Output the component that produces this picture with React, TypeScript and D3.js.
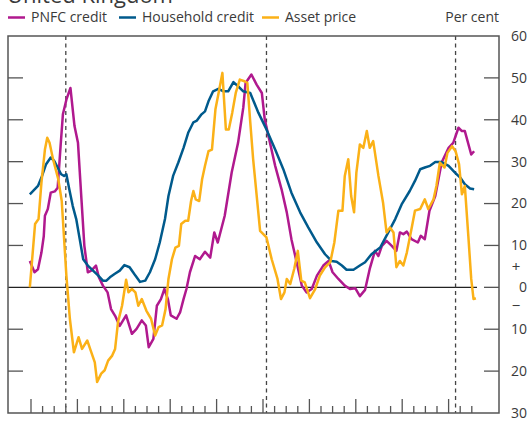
import * as d3 from 'd3'

// [year, per cent]
const pnfcCredit: [number, number][] = [
  [1969.9, 6.3], [1970.3, 3.6], [1970.6, 4.3], [1970.9, 8.3], [1971.1, 12.2], [1971.2, 17.1],
  [1971.45, 18.7], [1971.7, 22.6], [1972.05, 22.9], [1972.3, 23.8], [1972.55, 33.7], [1972.75, 41.3],
  [1973.05, 44.8], [1973.4, 47.6], [1973.75, 38.5], [1974.05, 34.5], [1974.35, 21.0], [1974.6, 9.9],
  [1974.9, 3.6], [1975.2, 4.0], [1975.6, 5.2], [1975.85, 2.4], [1976.2, 0.4], [1976.6, -1.2],
  [1976.9, -5.2], [1977.25, -6.8], [1977.65, -9.2], [1978.2, -6.7], [1978.7, -11.1], [1979.1, -9.9],
  [1979.55, -7.9], [1979.9, -9.1], [1980.15, -14.3], [1980.55, -12.3], [1980.85, -4.4], [1981.2, -2.8],
  [1981.5, -0.4], [1981.8, -2.8], [1982.05, -6.7], [1982.55, -7.5], [1982.85, -6.0], [1983.15, -2.8],
  [1983.4, -0.4], [1983.7, 3.6], [1984.15, 7.5], [1984.55, 6.7], [1985.0, 8.5], [1985.45, 7.1],
  [1985.8, 13.1], [1986.1, 10.7], [1986.7, 17.1], [1987.3, 27.4], [1987.85, 34.5], [1988.3, 42.9],
  [1988.5, 48.8], [1989.0, 50.8], [1989.45, 48.4], [1989.9, 46.4], [1990.15, 40.1], [1990.6, 34.5],
  [1991.05, 29.0], [1991.6, 23.4], [1992.05, 17.9], [1992.45, 11.5], [1992.9, 6.0], [1993.35, 0.4],
  [1993.75, -1.2], [1994.2, -0.4], [1994.65, 2.8], [1995.2, 5.2], [1995.65, 6.3], [1996.0, 3.6],
  [1996.5, 2.0], [1997.05, 0.4], [1997.5, -0.4], [1997.95, -0.2], [1998.35, -2.1], [1998.8, -0.6],
  [1999.2, 4.4], [1999.65, 8.7], [1999.95, 7.5], [2000.25, 9.9], [2000.65, 11.1], [2001.1, 9.9],
  [2001.5, 8.7], [2001.8, 13.1], [2002.1, 12.7], [2002.4, 13.3], [2002.8, 11.5], [2003.35, 10.7],
  [2003.6, 12.3], [2003.95, 11.5], [2004.35, 18.3], [2004.85, 21.8], [2005.4, 29.8], [2006.0, 33.3],
  [2006.4, 34.5], [2006.85, 38.1], [2007.15, 37.3], [2007.4, 37.3], [2007.95, 31.7], [2008.2, 32.5],
]

const householdCredit: [number, number][] = [
  [1969.9, 22.2], [1970.6, 24.2], [1970.9, 26.2], [1971.3, 29.4], [1971.7, 31.0], [1972.0, 30.2],
  [1972.3, 28.6], [1972.6, 27.0], [1972.85, 26.6], [1973.05, 27.0], [1973.3, 23.4], [1973.6, 19.4],
  [1973.9, 16.3], [1974.2, 11.5], [1974.5, 6.7], [1974.9, 5.2], [1975.35, 4.0], [1975.8, 2.8],
  [1976.2, 1.6], [1976.5, 1.6], [1976.8, 2.4], [1977.2, 3.2], [1977.65, 4.0], [1978.05, 5.3],
  [1978.5, 4.8], [1978.8, 3.6], [1979.0, 2.8], [1979.4, 1.3], [1979.85, 1.6], [1980.25, 3.6],
  [1980.7, 6.7], [1981.1, 10.7], [1981.55, 16.3], [1981.85, 21.8], [1982.25, 26.6], [1982.7, 29.8],
  [1983.15, 33.3], [1983.55, 36.9], [1984.0, 39.4], [1984.3, 39.8], [1984.7, 41.3], [1985.0, 42.0],
  [1985.3, 44.4], [1985.7, 46.8], [1986.15, 47.4], [1986.6, 46.8], [1987.0, 46.8], [1987.45, 49.0],
  [1987.85, 48.0], [1988.3, 46.8], [1988.9, 46.4], [1989.6, 41.7], [1990.3, 37.7], [1991.05, 32.9],
  [1991.75, 28.2], [1992.45, 22.6], [1993.2, 17.9], [1993.9, 14.3], [1994.65, 10.7], [1995.35, 7.9],
  [1995.9, 6.3], [1996.35, 6.1], [1996.8, 5.2], [1997.2, 4.2], [1997.8, 4.2], [1998.35, 5.2],
  [1998.8, 6.0], [1999.35, 7.9], [2000.1, 9.5], [2000.8, 13.1], [2001.4, 16.3], [2001.95, 19.8],
  [2002.65, 23.0], [2003.1, 25.4], [2003.55, 28.2], [2003.95, 28.6], [2004.4, 29.0], [2004.85, 29.9],
  [2005.4, 29.9], [2006.0, 29.0], [2006.55, 27.4], [2007.0, 26.2], [2007.4, 24.6], [2007.85, 23.6],
  [2008.2, 23.4],
]

const assetPrice: [number, number][] = [
  [1969.9, 0], [1970.1, 6.7], [1970.35, 15.1], [1970.65, 16.3], [1970.9, 25.0], [1971.2, 32.9],
  [1971.4, 35.7], [1971.6, 34.5], [1971.9, 30.6], [1972.35, 25.8], [1972.65, 20.6], [1973.05, 2.8],
  [1973.35, -7.5], [1973.7, -15.5], [1974.1, -11.9], [1974.4, -14.7], [1974.85, -12.7], [1975.15, -15.1],
  [1975.5, -17.9], [1975.7, -22.6], [1976.05, -20.6], [1976.35, -19.8], [1976.65, -17.5], [1977.0, -16.3],
  [1977.25, -14.7], [1977.5, -8.3], [1977.85, -4.4], [1978.2, 1.8], [1978.4, -1.2], [1978.7, -0.4],
  [1979.0, -1.2], [1979.25, -4.4], [1979.55, -2.8], [1979.95, -5.6], [1980.35, -7.5], [1980.7, -11.5],
  [1981.0, -9.5], [1981.3, -9.1], [1981.6, -5.2], [1981.85, 2.0], [1982.15, 6.7], [1982.45, 9.5],
  [1982.75, 9.9], [1982.95, 15.1], [1983.3, 15.9], [1983.55, 15.9], [1983.8, 20.6], [1984.0, 23.0],
  [1984.2, 21.0], [1984.5, 20.6], [1984.75, 25.8], [1985.0, 29.0], [1985.3, 32.5], [1985.6, 32.9],
  [1985.9, 42.5], [1986.2, 46.8], [1986.5, 51.2], [1986.8, 37.7], [1987.05, 37.7], [1987.35, 41.7],
  [1987.65, 46.4], [1988.0, 49.6], [1988.4, 49.2], [1988.65, 48.8], [1988.9, 39.5], [1989.15, 30.6],
  [1989.75, 13.5], [1990.3, 11.9], [1990.75, 6.7], [1991.25, 2.0], [1991.55, -2.8], [1991.85, -1.2],
  [1992.05, 2.0], [1992.35, 0.8], [1992.7, 4.5], [1993.0, 8.7], [1993.3, 1.6], [1993.6, 1.2],
  [1994.05, -2.6], [1994.5, -0.4], [1994.9, 2.8], [1995.35, 4.8], [1995.8, 6.0], [1996.15, 10.7],
  [1996.5, 18.3], [1996.85, 18.3], [1997.05, 26.6], [1997.35, 30.6], [1997.6, 21.8], [1997.85, 17.9],
  [1998.05, 27.4], [1998.35, 34.1], [1998.65, 33.3], [1998.95, 37.3], [1999.2, 33.3], [1999.5, 34.9],
  [1999.95, 26.6], [2000.35, 20.2], [2000.65, 13.1], [2000.95, 14.3], [2001.25, 13.1], [2001.5, 4.8],
  [2001.8, 6.3], [2002.1, 5.2], [2002.4, 8.3], [2002.8, 13.9], [2003.1, 18.3], [2003.55, 18.7],
  [2003.95, 21.0], [2004.25, 18.7], [2004.7, 21.0], [2004.95, 24.2], [2005.25, 29.8], [2005.65, 28.6],
  [2005.9, 32.1], [2006.3, 33.7], [2006.6, 32.5], [2006.9, 29.4], [2007.15, 22.2], [2007.4, 24.2],
  [2007.7, 12.3], [2007.95, 2.0], [2008.15, -2.8], [2008.35, -2.6],
]

const crisisYears = [1973.0, 1990.3, 2006.6]
const yTicks = [60, 50, 40, 30, 20, 10, 0, -10, -20, -30]
const firstTickYear = 1970
const lastTickYear = 2008

const series = [
  { name: 'PNFC credit', color: '#b0198e', data: pnfcCredit },
  { name: 'Household credit', color: '#005a8c', data: householdCredit },
  { name: 'Asset price', color: '#fbb117', data: assetPrice },
]

const W = 528
const H = 421
const left = 8
const right = 499
const top = 36
const bottom = 413
const font = '"Open Sans", "Noto Sans", sans-serif'
const ink = '#3a3a3a'
const frame = '#555555'

export default function App() {
  const x = d3.scaleLinear().domain([1970, 2008]).range([31, 471.8])
  const y = d3.scaleLinear().domain([-30, 60]).range([bottom, top])

  const line = d3
    .line<[number, number]>()
    .x((d) => x(d[0]))
    .y((d) => y(d[1]))

  const years = d3.range(firstTickYear, lastTickYear + 1)
  const legendX = [8, 119, 262]

  return (
    <>
      <style>{'body{margin:0}'}</style>
      <svg width={W} height={H} style={{ display: 'block', fontFamily: font }}>
        <text x={7} y={3} fontSize={22} fill={ink}>
          United Kingdom
        </text>

        {series.map((s, i) => (
          <g key={s.name}>
            <line x1={legendX[i]} x2={legendX[i] + 17} y1={17.5} y2={17.5} stroke={s.color} strokeWidth={2.5} />
            <text x={legendX[i] + 23} y={17.5} dy="0.35em" fontSize={14} fill={ink}>
              {s.name}
            </text>
          </g>
        ))}
        <text x={right} y={17.5} dy="0.35em" textAnchor="end" fontSize={14} fill={ink}>
          Per cent
        </text>

        {/* zero line */}
        <line x1={left} x2={477} y1={y(0)} y2={y(0)} stroke="#222" strokeWidth={1.3} />

        {/* crisis markers */}
        {crisisYears.map((c) => (
          <line
            key={c}
            x1={x(c)}
            x2={x(c)}
            y1={top}
            y2={bottom}
            stroke="#444"
            strokeWidth={1.3}
            strokeDasharray="4,3.5"
          />
        ))}

        {series.map((s) => (
          <path
            key={s.name}
            d={line(s.data) ?? ''}
            fill="none"
            stroke={s.color}
            strokeWidth={2.5}
            strokeLinejoin="round"
          />
        ))}

        {/* frame */}
        <path
          d={`M${left},${top}H${right}V${bottom}H${left}Z`}
          fill="none"
          stroke={frame}
          strokeWidth={1.5}
        />

        {/* y ticks both sides */}
        {yTicks
          .filter((t) => t > -30 && t < 60 && t !== 0)
          .map((t) => (
            <g key={t}>
              <line x1={left} x2={left + 15} y1={y(t)} y2={y(t)} stroke={frame} strokeWidth={1.3} />
              <line x1={right - 15} x2={right} y1={y(t)} y2={y(t)} stroke={frame} strokeWidth={1.3} />
            </g>
          ))}
        <line x1={right - 15} x2={right} y1={y(0)} y2={y(0)} stroke={frame} strokeWidth={1.3} />

        {yTicks.map((t) => (
          <text key={t} x={527} y={y(t)} dy="0.35em" textAnchor="end" fontSize={14} fill={ink}>
            {Math.abs(t)}
          </text>
        ))}
        <text x={516} y={y(5)} dy="0.35em" textAnchor="middle" fontSize={15} fill={ink}>
          +
        </text>
        <text x={516} y={y(-4.5)} dy="0.35em" textAnchor="middle" fontSize={15} fill={ink}>
          −
        </text>

        {/* x ticks */}
        {years.map((yr) => {
          const major = (yr - firstTickYear) % 4 === 0
          return (
            <line
              key={yr}
              x1={x(yr)}
              x2={x(yr)}
              y1={bottom}
              y2={bottom - (major ? 14 : 7)}
              stroke={frame}
              strokeWidth={1.3}
            />
          )
        })}
      </svg>
    </>
  )
}
